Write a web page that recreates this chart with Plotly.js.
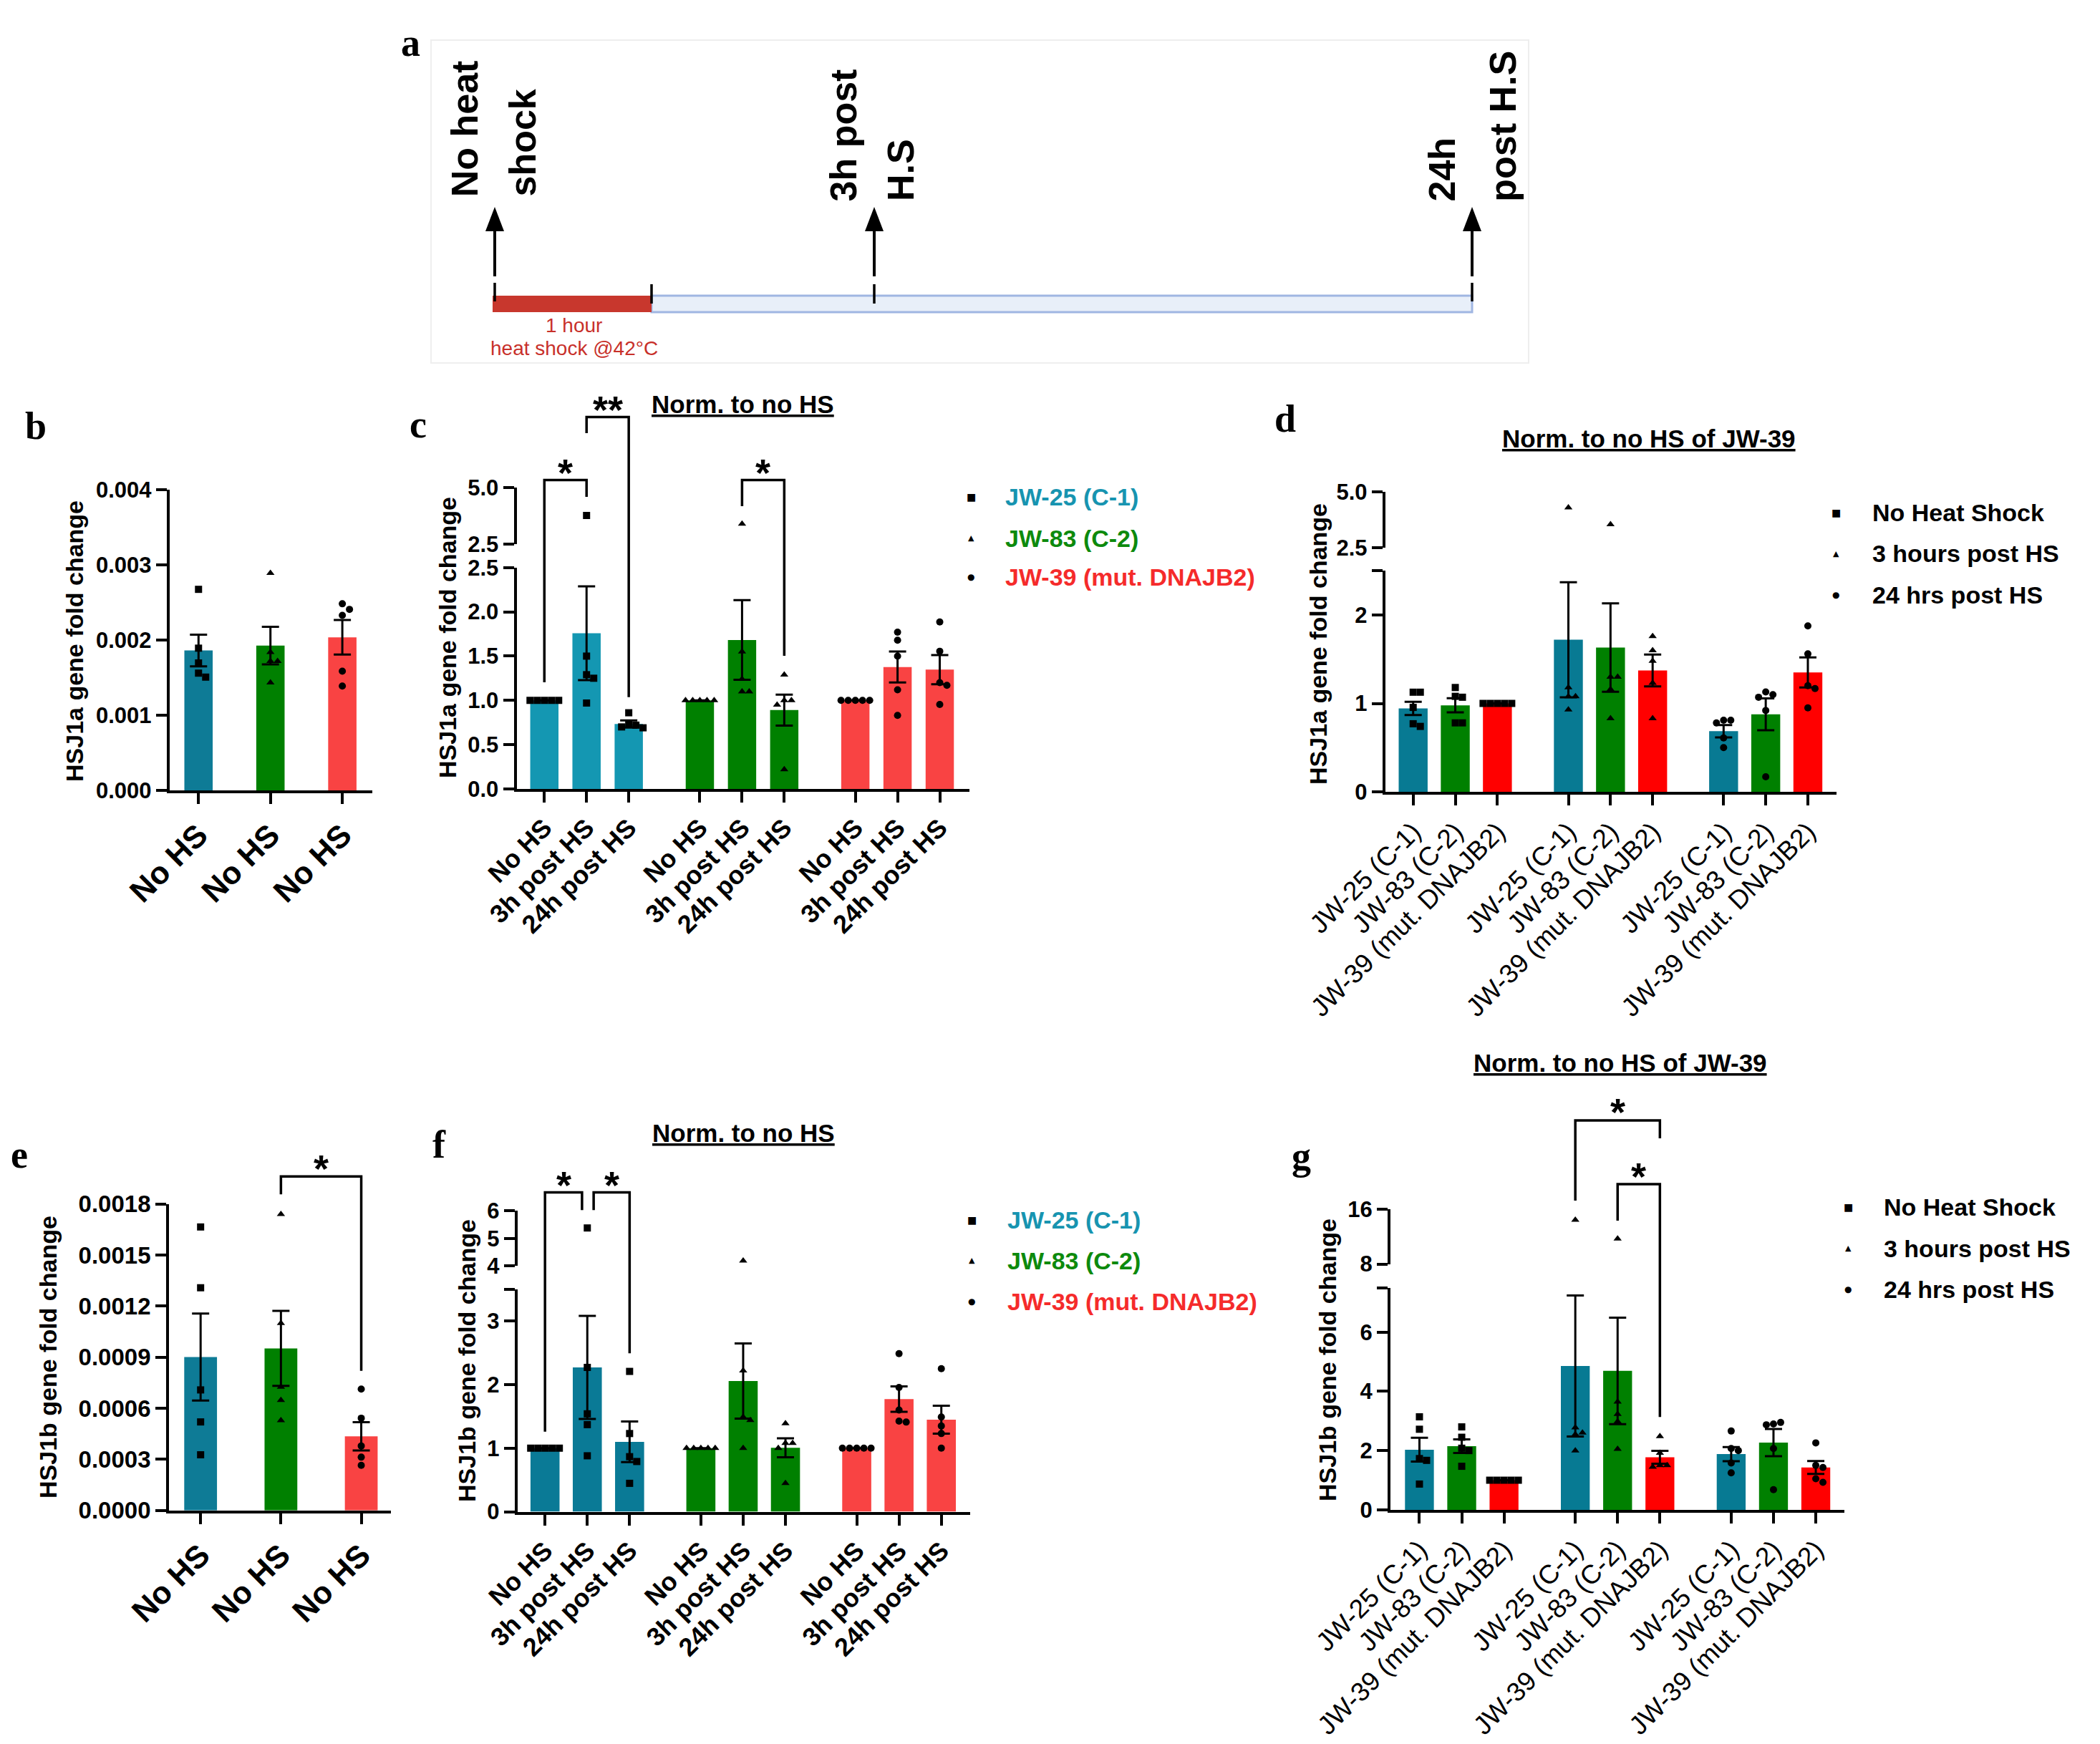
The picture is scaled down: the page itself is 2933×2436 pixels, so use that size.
<!DOCTYPE html>
<html><head><meta charset="utf-8">
<script src="https://cdn.plot.ly/plotly-3.0.1.min.js"></script>
<style>html,body{margin:0;padding:0;background:#fff}</style>
</head><body>
<div id="chart" style="width:2933px;height:2436px"></div>
<script>
// ================= DATA =================
const time_labels = ['No HS', '3h post HS', '24h post HS'];
const line_labels = ['JW-25 (C-1)', 'JW-83 (C-2)', 'JW-39 (mut. DNAJB2)'];
const legend_lines = ['JW-25 (C-1)', 'JW-83 (C-2)', 'JW-39 (mut. DNAJB2)'];
const legend_times = ['No Heat Shock', '3 hours post HS', '24 hrs post HS'];

// panel b : HSJ1a raw
const b_labels = ['No HS', 'No HS', 'No HS'];
const b_means = [0.001862, 0.001928, 0.002037];
const b_sems = [0.00021, 0.00025, 0.00023];
const b_points = [
  [0.002675, 0.001893, 0.001696, 0.001561, 0.001508],
  [0.00289, 0.00184, 0.00172, 0.00172, 0.001434],
  [0.002483, 0.002409, 0.00233, 0.001587, 0.00139]
];
const b_yticks = [0, 0.001, 0.002, 0.003, 0.004];
const b_yticklabels = ['0.000', '0.001', '0.002', '0.003', '0.004'];

// panel c : HSJ1a norm. to no HS
const c_means = [1.0, 1.758, 0.733, 1.0, 1.682, 0.89, 1.0, 1.377, 1.347];
const c_sems = [0, 0.53, 0.04, 0, 0.45, 0.175, 0, 0.175, 0.165];
const c_points = [
  [1, 1, 1, 1, 1], [3.77, 1.5, 1.29, 1.25, 0.97], [0.86, 0.73, 0.72, 0.70, 0.69],
  [1, 1, 1, 1, 1], [3.4, 1.55, 1.24, 1.1, 1.1], [1.29, 1.0, 1.0, 0.95, 0.22],
  [1, 1, 1, 1, 1], [1.77, 1.68, 1.5, 1.12, 0.83], [1.886, 1.555, 1.2, 1.17, 0.953]
];
const c_yticks_low = [0, 0.5, 1, 1.5, 2, 2.5];
const c_yticklabels_low = ['0.0', '0.5', '1.0', '1.5', '2.0', '2.5'];
const c_yticks_high = [2.5, 5];
const c_yticklabels_high = ['2.5', '5.0'];

// panel d : HSJ1a norm. to no HS of JW-39
const d_means = [0.944, 0.978, 1.0, 1.72, 1.632, 1.373, 0.686, 0.877, 1.35];
const d_sems = [0.075, 0.08, 0, 0.65, 0.5, 0.18, 0.07, 0.18, 0.17];
const d_points = [
  [1.127, 1.127, 0.955, 0.77, 0.74], [1.18, 1.08, 1.07, 0.78, 0.78], [1, 1, 1, 1, 1],
  [4.29, 1.18, 1.08, 1.08, 0.93], [3.55, 1.3, 1.3, 1.16, 0.83], [1.76, 1.6, 1.48, 1.23, 0.83],
  [0.81, 0.81, 0.78, 0.61, 0.5], [1.13, 1.1, 1.07, 0.92, 0.17], [1.877, 1.56, 1.2, 1.168, 0.95]
];
const d_yticks_low = [0, 1, 2, 2.5];
const d_yticklabels_low = ['0', '1', '2', ''];
const d_yticks_high = [2.5, 5];
const d_yticklabels_high = ['2.5', '5.0'];

// panel e : HSJ1b raw
const e_labels = ['No HS', 'No HS', 'No HS'];
const e_means = [0.000901, 0.000952, 0.000435];
const e_sems = [0.000255, 0.00022, 0.000083];
const e_points = [
  [0.001665, 0.001308, 0.000708, 0.00052, 0.000327],
  [0.00174, 0.0011, 0.000726, 0.000648, 0.000529],
  [0.000713, 0.000542, 0.000379, 0.000313, 0.000265]
];
const e_yticks = [0, 0.0003, 0.0006, 0.0009, 0.0012, 0.0015, 0.0018];
const e_yticklabels = ['0.0000', '0.0003', '0.0006', '0.0009', '0.0012', '0.0015', '0.0018'];

// panel f : HSJ1b norm. to no HS
const f_means = [1.0, 2.27, 1.10, 1.0, 2.056, 1.006, 1.0, 1.771, 1.447];
const f_sems = [0, 0.81, 0.32, 0, 0.59, 0.15, 0, 0.2, 0.22];
const f_points = [
  [1, 1, 1, 1, 1], [5.38, 2.27, 1.54, 1.37, 0.88], [2.207, 1.23, 0.866, 0.79, 0.447],
  [1, 1, 1, 1, 1], [4.19, 2.22, 1.49, 1.44, 1.0], [1.39, 1.08, 1.08, 1.0, 0.45],
  [1, 1, 1, 1, 1], [2.486, 1.955, 1.6, 1.425, 1.41], [2.25, 1.49, 1.35, 1.23, 1.0]
];
const f_yticks_low = [0, 1, 2, 3, 3.5];
const f_yticklabels_low = ['0', '1', '2', '3', ''];
const f_yticks_high = [4, 5, 6];
const f_yticklabels_high = ['4', '5', '6'];

// panel g : HSJ1b norm. to no HS of JW-39
const g_means = [2.03, 2.15, 1.0, 4.857, 4.69, 1.774, 1.88, 2.27, 1.43];
const g_sems = [0.4, 0.23, 0, 2.38, 1.8, 0.22, 0.24, 0.46, 0.22];
const g_points = [
  [3.14, 2.72, 1.73, 1.67, 0.87], [2.8, 2.45, 2.08, 2.0, 1.47], [1, 1, 1, 1, 1],
  [14.43, 2.78, 2.6, 2.55, 2.0], [11.7, 3.65, 3.23, 2.98, 2.05], [2.48, 1.92, 1.5, 1.5, 1.45],
  [2.66, 2.07, 2.0, 1.58, 1.25], [2.9, 2.95, 2.87, 2.07, 0.68], [2.26, 1.5, 1.43, 1.05, 0.93]
];
const g_yticks_low = [0, 2, 4, 6, 7.5];
const g_yticklabels_low = ['0', '2', '4', '6', ''];
const g_yticks_high = [8, 16];
const g_yticklabels_high = ['8', '16'];

// ================= STYLE / HELPERS =================
const W = 2933, H = 2436;
const SANS = 'Arial, "Liberation Sans", sans-serif';
const SERIF = '"Times New Roman", "Liberation Serif", serif';
const fx = v => v / W;
const fy = v => 1 - v / H;
const GAP = 0.685;
const grouped = [0, 1, 2].flatMap(g => [0, 1, 2].map(i => g * (3 + GAP) + i));
const simple = [0, 1, 2];
const rep3 = arr => [].concat(arr, arr, arr);
const STAR = 54;

const traces = [];
const layout = {
  width: W, height: H, margin: {l: 0, r: 0, t: 0, b: 0},
  paper_bgcolor: '#ffffff', plot_bgcolor: 'rgba(0,0,0,0)', showlegend: false,
  shapes: [], annotations: []
};

function axKey(id) { return (id[0] === 'x' ? 'xaxis' : 'yaxis') + id.slice(1); }
function axisBase() {
  return {showline: true, linecolor: '#000', linewidth: 4, ticks: 'outside', ticklen: 15,
          tickwidth: 4, tickcolor: '#000', showgrid: false, zeroline: false,
          fixedrange: true, automargin: false, tickmode: 'array'};
}
function swarm(vals, ppy, d) {
  const placed = [], offs = [];
  vals.forEach(v => {
    const yp = v * ppy;
    const cands = [0];
    for (let j = 1; j < 8; j++) cands.push(j * d, -j * d);
    let off = 0;
    for (const c of cands) {
      if (placed.every(q => Math.hypot(q.x - c, q.y - yp) >= d * 0.95)) { off = c; break; }
    }
    placed.push({x: off, y: yp}); offs.push(off);
  });
  return offs;
}
function ann(text, xpx, ypx, size, opts) {
  layout.annotations.push(Object.assign({
    text: text, x: fx(xpx), y: fy(ypx), xref: 'paper', yref: 'paper', showarrow: false,
    xanchor: 'center', yanchor: 'middle',
    font: {family: SANS, size: size, color: '#000', weight: 'bold'}
  }, opts || {}));
}

function panel(p) {
  const ppx = (p.right - p.left) / (p.xrange[1] - p.xrange[0]);
  p.xpx = v => p.left + (v - p.xrange[0]) * ppx;
  layout[axKey(p.xid)] = Object.assign(axisBase(), {
    domain: [fx(p.left), fx(p.right)], range: p.xrange, anchor: p.ylo,
    tickvals: p.pos, ticktext: p.labels, tickangle: -45, tickfont: p.xfont
  });
  layout[axKey(p.ylo)] = Object.assign(axisBase(), {
    domain: [fy(p.y0), fy(p.ytop)], range: p.lowRange, anchor: p.xid,
    tickvals: p.lowTicks, ticktext: p.lowTickLabels, tickfont: p.yfont
  });
  const pplo = (p.y0 - p.ytop) / (p.lowRange[1] - p.lowRange[0]);
  let pphi = 0;
  if (p.up) {
    layout[axKey(p.yhi)] = Object.assign(axisBase(), {
      domain: [fy(p.up.bottom), fy(p.up.top)], range: p.up.range, anchor: p.xid,
      tickvals: p.up.ticks, ticktext: p.up.tickLabels, tickfont: p.yfont
    });
    pphi = (p.up.bottom - p.up.top) / (p.up.range[1] - p.up.range[0]);
  }
  traces.push({
    type: 'bar', x: p.pos, y: p.means, width: p.barWidth, xaxis: p.xid, yaxis: p.ylo,
    marker: {color: p.colors, line: {width: 0}}, hoverinfo: 'skip',
    error_y: {type: 'data', array: p.sems, visible: true, color: '#000', thickness: 3, width: 12}
  });
  const groups = {};
  p.points.forEach((vals, i) => {
    const sym = p.symbols[i];
    const low = vals.filter(v => v <= p.lowRange[1]);
    const high = vals.filter(v => v > p.lowRange[1]);
    const d = 10;
    const lo = swarm(low, pplo, d);
    low.forEach((v, k) => {
      const key = p.ylo + sym; (groups[key] = groups[key] || {y: p.ylo, sym, x: [], v: []});
      groups[key].x.push(p.pos[i] + lo[k] / ppx); groups[key].v.push(v);
    });
    if (high.length) {
      const ho = swarm(high.map(v => v - p.up.range[0]), pphi, d);
      high.forEach((v, k) => {
        const key = p.yhi + sym; (groups[key] = groups[key] || {y: p.yhi, sym, x: [], v: []});
        groups[key].x.push(p.pos[i] + ho[k] / ppx); groups[key].v.push(v);
      });
    }
  });
  Object.values(groups).forEach(gr => {
    traces.push({
      type: 'scatter', mode: 'markers', x: gr.x, y: gr.v, xaxis: p.xid, yaxis: gr.y,
      cliponaxis: false, hoverinfo: 'skip',
      marker: {symbol: gr.sym, size: 10, color: '#000', line: {width: 0}}
    });
  });
  // y title
  ann(p.ytitle, p.ytitleX, p.ytitleY, 34, {textangle: -90});
  // brackets
  (p.brackets || []).forEach(b => {
    const xl = p.xpx(p.pos[b.i] + (b.oi || 0)), xr = p.xpx(p.pos[b.j] + (b.oj || 0));
    layout.shapes.push({
      type: 'path', xref: 'paper', yref: 'paper',
      path: `M${fx(xl)},${fy(b.yl)}L${fx(xl)},${fy(b.top)}L${fx(xr)},${fy(b.top)}L${fx(xr)},${fy(b.yr)}`,
      line: {color: '#000', width: 3.5}
    });
    // asterisk glyph sits high in its line box: shift the box down so the glyph centre is at b.star
    ann(b.text, (xl + xr) / 2, b.star + 0.3 * STAR, STAR);
  });
}

const XB = {family: SANS, size: 44, color: '#000', weight: 'bold'};
const XT = {family: SANS, size: 36, color: '#000', weight: 'bold'};
const XL = {family: SANS, size: 37, color: '#000', weight: 'normal'};
const YB = {family: SANS, size: 31, color: '#000', weight: 'bold'};
const YE = {family: SANS, size: 33, color: '#000', weight: 'bold'};
const YS = {family: SANS, size: 31, color: '#000', weight: 'bold'};

const TEAL_B = '#0e7b96', TEAL_C = '#1497b2', TEAL_D = '#087a93', GREEN = '#008000';
const RED_S = '#f94343', RED = '#ff0000';
const grpColors = (t, r) => [t, t, t, GREEN, GREEN, GREEN, r, r, r];
const barColors = (t, r) => rep3([t, GREEN, r]);
const grpSyms = ['square', 'square', 'square', 'triangle-up', 'triangle-up', 'triangle-up', 'circle', 'circle', 'circle'];
const barSyms = grpSyms;

// panel b
panel({xid: 'x', ylo: 'y', left: 236.7, right: 520, y0: 1104.2, ytop: 684,
  xrange: [-0.404, 2.417], pos: simple, labels: b_labels, barWidth: 0.394,
  lowRange: [0, 0.004], lowTicks: b_yticks, lowTickLabels: b_yticklabels,
  means: b_means, sems: b_sems, points: b_points, colors: [TEAL_B, GREEN, RED_S],
  symbols: ['square', 'triangle-up', 'circle'], xfont: XB, yfont: YB,
  ytitle: 'HSJ1a gene fold change', ytitleX: 104, ytitleY: 895});

// panel c
panel({xid: 'x2', ylo: 'y2', yhi: 'y3', left: 721.5, right: 1353.6, y0: 1101.9, ytop: 792.8,
  up: {bottom: 760.4, top: 680.9, range: [2.5, 5], ticks: c_yticks_high, tickLabels: c_yticklabels_high},
  xrange: [-0.658, 10.067], pos: grouped, labels: rep3(time_labels), barWidth: 0.67,
  lowRange: [0, 2.5], lowTicks: c_yticks_low, lowTickLabels: c_yticklabels_low,
  means: c_means, sems: c_sems, points: c_points, colors: grpColors(TEAL_C, RED_S),
  symbols: grpSyms, xfont: XT, yfont: YS,
  ytitle: 'HSJ1a gene fold change', ytitleX: 625, ytitleY: 891,
  brackets: [
    {i: 0, j: 1, top: 670.4, yl: 952.9, yr: 694, text: '*', star: 644},
    {i: 1, j: 2, top: 582.6, yl: 605, yr: 973.8, text: '**', star: 556},
    {i: 4, j: 5, top: 670.4, yl: 707, yr: 916, text: '*', star: 644}
  ]});

// panel d
panel({xid: 'x3', ylo: 'y4', yhi: 'y5', left: 1934.7, right: 2565.4, y0: 1106, ytop: 797.3,
  up: {bottom: 765.4, top: 686.8, range: [2.5, 5], ticks: d_yticks_high, tickLabels: d_yticklabels_high},
  xrange: [-0.663, 10.057], pos: grouped, labels: rep3(line_labels), barWidth: 0.687,
  lowRange: [0, 2.5], lowTicks: d_yticks_low, lowTickLabels: d_yticklabels_low,
  means: d_means, sems: d_sems, points: d_points, colors: barColors(TEAL_D, RED),
  symbols: barSyms, xfont: XL, yfont: YS,
  ytitle: 'HSJ1a gene fold change', ytitleX: 1841, ytitleY: 900});

// panel e
panel({xid: 'x4', ylo: 'y6', left: 236.1, right: 545.6, y0: 2109.8, ytop: 1681.7,
  xrange: [-0.393, 2.366], pos: simple, labels: e_labels, barWidth: 0.408,
  lowRange: [0, 0.0018], lowTicks: e_yticks, lowTickLabels: e_yticklabels,
  means: e_means, sems: e_sems, points: e_points, colors: [TEAL_B, GREEN, RED_S],
  symbols: ['square', 'triangle-up', 'circle'], xfont: XB, yfont: YE,
  ytitle: 'HSJ1b gene fold change', ytitleX: 67, ytitleY: 1896,
  brackets: [{i: 1, j: 2, top: 1643.3, yl: 1668.3, yr: 1914.7, text: '*', star: 1616}]});

// panel f
panel({xid: 'x5', ylo: 'y7', yhi: 'y8', left: 722.8, right: 1355.3, y0: 2111.6, ytop: 1800.7,
  up: {bottom: 1768.4, top: 1691.3, range: [4, 6], ticks: f_yticks_high, tickLabels: f_yticklabels_high},
  xrange: [-0.65, 10.057], pos: grouped, labels: rep3(time_labels), barWidth: 0.687,
  lowRange: [0, 3.5], lowTicks: f_yticks_low, lowTickLabels: f_yticklabels_low,
  means: f_means, sems: f_sems, points: f_points, colors: grpColors('#0a7a96', RED_S),
  symbols: grpSyms, xfont: XT, yfont: YS,
  ytitle: 'HSJ1b gene fold change', ytitleX: 652, ytitleY: 1901,
  brackets: [
    {i: 0, j: 1, oj: -0.125, top: 1665.4, yl: 1999.7, yr: 1690.3, text: '*', star: 1639},
    {i: 1, j: 2, oi: 0.15, top: 1665.4, yl: 1690.3, yr: 1890.2, text: '*', star: 1639}
  ]});

// panel g
panel({xid: 'x6', ylo: 'y9', yhi: 'y10', left: 1942, right: 2576.4, y0: 2108.9, ytop: 1798.6,
  up: {bottom: 1765.6, top: 1688.9, range: [8, 16], ticks: g_yticks_high, tickLabels: g_yticklabels_high},
  xrange: [-0.685, 10.053], pos: grouped, labels: rep3(line_labels), barWidth: 0.683,
  lowRange: [0, 7.5], lowTicks: g_yticks_low, lowTickLabels: g_yticklabels_low,
  means: g_means, sems: g_sems, points: g_points, colors: barColors('#077a93', RED),
  symbols: barSyms, xfont: XL, yfont: YS,
  ytitle: 'HSJ1b gene fold change', ytitleX: 1854, ytitleY: 1900,
  brackets: [
    {i: 3, j: 5, top: 1565, yl: 1677, yr: 1590, text: '*', star: 1537},
    {i: 4, j: 5, top: 1654, yl: 1705, yr: 1979.3, text: '*', star: 1627}
  ]});

// ----- titles (underlined) -----
ann('<u>Norm. to no HS</u>', 1037.5, 564.5, 35);
ann('<u>Norm. to no HS of JW-39</u>', 2303, 612, 35);
ann('<u>Norm. to no HS</u>', 1038, 1582, 35);
ann('<u>Norm. to no HS of JW-39</u>', 2262.6, 1484, 35);

// ----- legends -----
const legSyms = ['■', '▲', '●'];
const legSymSize = [14, 11, 12];
function legend(mx, tx, ys, texts, colors) {
  ys.forEach((y, k) => {
    ann(legSyms[k], mx, y, legSymSize[k], {font: {family: 'DejaVu Sans', size: legSymSize[k], color: '#000'}});
    ann(texts[k], tx, y, 34, {xanchor: 'left', font: {family: SANS, size: 34, color: colors[k], weight: 'bold'}});
  });
}
const LEGC = ['#1794b0', '#0d8a0d', '#f52b2b'];
legend(1356, 1402, [694, 751.5, 806.4], legend_lines, LEGC);
legend(2564, 2613, [716, 773, 831], legend_times, ['#000', '#000', '#000']);
legend(1357, 1405, [1703.7, 1760.9, 1818.1], legend_lines, LEGC);
legend(2581, 2629, [1686.4, 1743.8, 1800.5], legend_times, ['#000', '#000', '#000']);

// ----- panel letters -----
[['a', 573, 60], ['b', 50, 595], ['c', 584, 593], ['d', 1795, 585], ['e', 27, 1613], ['f', 613, 1599], ['g', 1817, 1615]]
  .forEach(([t, x, y]) => ann(t, x, y, 54, {font: {family: SERIF, size: 54, color: '#000', weight: 'bold'}}));

// ----- panel a : timeline schematic -----
const rectP = (x0, y0, x1, y1, fill, line) => layout.shapes.push({type: 'rect', xref: 'paper', yref: 'paper',
  x0: fx(x0), x1: fx(x1), y0: fy(y0), y1: fy(y1), fillcolor: fill, line: line});
const lineP = (x0, y0, x1, y1, w, c) => layout.shapes.push({type: 'line', xref: 'paper', yref: 'paper',
  x0: fx(x0), x1: fx(x1), y0: fy(y0), y1: fy(y1), line: {color: c || '#000', width: w}});
rectP(602, 56, 2135, 507, 'rgba(0,0,0,0)', {color: '#eeeeee', width: 2});
rectP(910, 413, 2056, 436, '#e8eff9', {color: '#a0b6e2', width: 3});
rectP(688, 413, 910, 436, '#c8372d', {width: 0});
[[691, 395, 421], [910, 397, 424], [1221, 397, 424], [2056, 395, 421]].forEach(([x, a, b]) => lineP(x, a, x, b, 3.5));
[691, 1221, 2056].forEach(x => {
  lineP(x, 386, x, 318, 4);
  layout.shapes.push({type: 'path', xref: 'paper', yref: 'paper', fillcolor: '#000', line: {width: 0},
    path: `M${fx(x)},${fy(289)}L${fx(x - 13)},${fy(323)}L${fx(x + 13)},${fy(323)}Z`});
});
[['No heat', 648.8, 277], ['shock', 729.5, 277], ['3h post', 1177.5, 283.5], ['H.S', 1258, 283.5],
 ['24h', 2013, 283.5], ['post H.S', 2098.7, 283.5]]
  .forEach(([t, x, y]) => ann(t, x, y, 52, {textangle: -90, yanchor: 'bottom'}));
ann('1 hour', 802, 454, 28, {font: {family: SANS, size: 28, color: '#c8302a'}});
ann('heat shock @42°C', 802, 486, 28, {font: {family: SANS, size: 28, color: '#c8302a'}});

Plotly.newPlot('chart', traces, layout, {staticPlot: true, displayModeBar: false});
</script>
</body></html>
